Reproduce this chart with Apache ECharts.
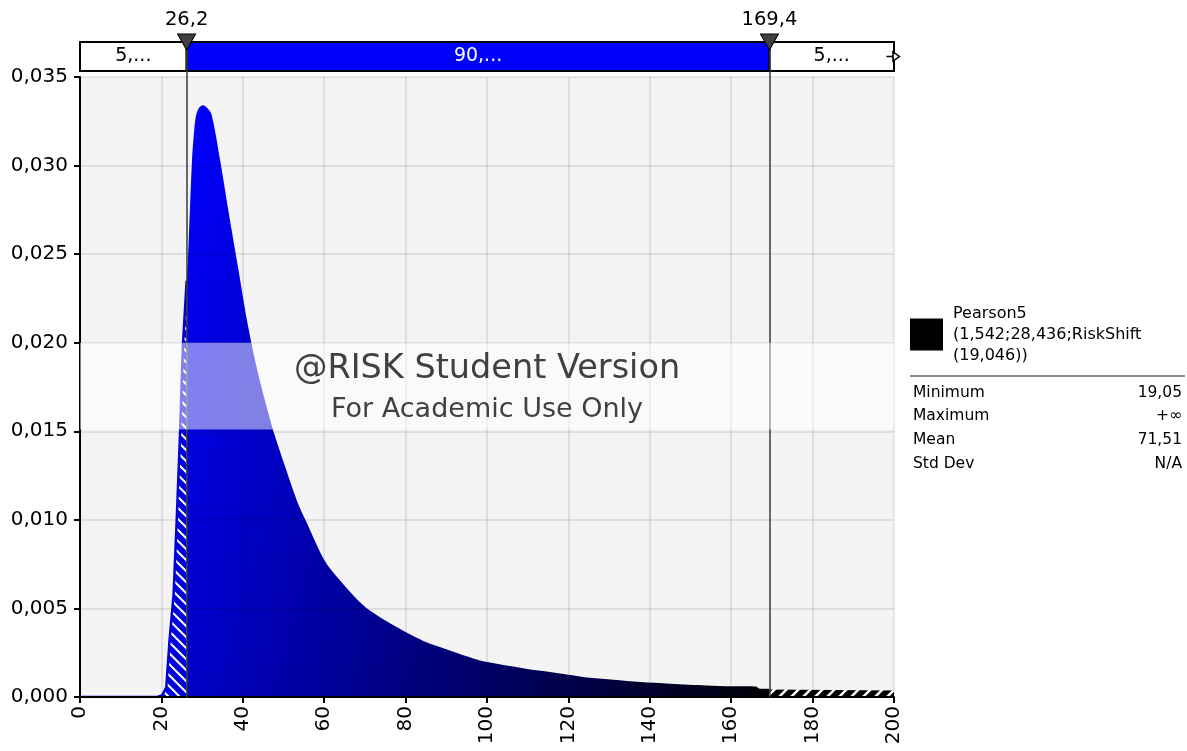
<!DOCTYPE html>
<html>
<head>
<meta charset="utf-8">
<script src="https://cdn.jsdelivr.net/npm/echarts@6/dist/echarts.min.js"></script>
<style>
  html, body { margin: 0; padding: 0; background: #ffffff; }
  #chart { width: 1187px; height: 751px; }
</style>
</head>
<body>
<div id="chart"></div>
<script>
// Density below the left delimiter (hatched)
const leftX       = [0, 19.05, 20.2, 21.2, 22.0, 23.0, 23.8, 24.6, 25.3, 26.2];
const leftDensity = [0, 0, 0.0001, 0.00055, 0.0032, 0.0058, 0.0102, 0.0150, 0.0199, 0.0235];

// Density between the two delimiters (90% band)
const mainX = [26.2, 26.5, 27.5, 28.1, 28.6, 29.4, 30.2, 31.0, 32.3, 34.5, 36.5, 38.8, 41.0,
               43.3, 45.6, 47.8, 50.7, 53.6, 55.6, 60.1, 63.8, 70.0, 78.6, 85, 90, 95, 98.3,
               102.4, 106.5, 110.6, 114.7, 119.6, 125.3, 131.1, 137.6, 145, 154, 160, 166,
               167, 169.4];
const mainDensity = [0.0235, 0.0246, 0.0302, 0.0321, 0.0329, 0.0333, 0.0334, 0.0333, 0.0329,
                     0.0302, 0.0274, 0.0243, 0.0213, 0.0187, 0.0166, 0.0148, 0.0128, 0.0109,
                     0.0099, 0.0077, 0.0066, 0.0051, 0.00385, 0.0031, 0.0027, 0.0023, 0.00206,
                     0.00188, 0.00172, 0.00155, 0.00144, 0.00127, 0.00108, 0.00097, 0.00084,
                     0.00075, 0.00065, 0.0006, 0.00059, 0.00047, 0.00046];

// Density above the right delimiter (hatched)
const rightX       = [169.4, 185, 200];
const rightDensity = [0.00042, 0.0004, 0.00037];

// Delimiters and the probability band above the plot
const delimiters = [26.2, 169.4];
const bandLabels = ['5,...', '90,...', '5,...'];

// Axis ranges
const xRange = { min: 0, max: 200, interval: 20 };
const yRange = { min: 0, max: 0.035, interval: 0.005 };

// Distribution legend and statistics
const distName   = 'Pearson5\n(1,542;28,436;RiskShift\n(19,046))';
const statNames  = ['Minimum', 'Maximum', 'Mean', 'Std Dev'];
const statValues = ['19,05', '+\u221E', '71,51', 'N/A'];

const watermark = ['@RISK Student Version', 'For Academic Use Only'];

const FONT = 'DejaVu Sans';
const comma = v => String(v).replace('.', ',');
const pairs = (xs, ys) => xs.map((x, i) => [x, ys[i]]);

// Diagonal hatch tile used as an area fill pattern
function hatch(bg, fg, size, width, dir) {
  const c = document.createElement('canvas');
  c.width = c.height = size;
  const g = c.getContext('2d');
  g.fillStyle = bg;
  g.fillRect(0, 0, size, size);
  g.strokeStyle = fg;
  g.lineWidth = width;
  g.beginPath();
  for (let k = -1; k <= 1; k++) {
    if (dir === 'back') {
      g.moveTo(k * size - 1, -1);
      g.lineTo(k * size + size + 1, size + 1);
    } else {
      g.moveTo(k * size - 1, size + 1);
      g.lineTo(k * size + size + 1, -1);
    }
  }
  g.stroke();
  return c;
}

const segments = [];
const bounds = [xRange.min, ...delimiters, xRange.max];
for (let i = 0; i < bounds.length - 1; i++) segments.push([bounds[i], bounds[i + 1]]);
const segFill = ['#ffffff', '#0000ff', '#ffffff'];
const segText = ['#000000', '#ffffff', '#000000'];
const BAR_BOTTOM = 6 / 35;

const chart = echarts.init(document.getElementById('chart'), null, { renderer: 'canvas' });

chart.setOption({
  animation: false,
  backgroundColor: '#ffffff',
  textStyle: { fontFamily: FONT },
  grid: [
    { left: 80, width: 814, top: 77, height: 620, show: true, backgroundColor: '#f4f4f4', borderWidth: 0 },
    { left: 80, width: 814, top: 42, height: 35, show: false }
  ],
  xAxis: [
    {
      type: 'value', gridIndex: 0, min: xRange.min, max: xRange.max, interval: xRange.interval, z: 4,
      axisLine: { show: true, onZero: false, lineStyle: { color: '#000', width: 2 } },
      axisTick: { show: true, length: 6, lineStyle: { color: '#000', width: 2 } },
      axisLabel: { rotate: 90, margin: 9, fontSize: 20, color: '#000', fontFamily: FONT, formatter: v => String(v) },
      splitLine: { show: true, lineStyle: { color: 'rgba(0,0,0,0.11)', width: 1.5 } }
    },
    { type: 'value', gridIndex: 1, min: xRange.min, max: xRange.max, show: false }
  ],
  yAxis: [
    {
      type: 'value', gridIndex: 0, min: yRange.min, max: yRange.max, interval: yRange.interval, z: 4,
      axisLine: { show: true, lineStyle: { color: '#000', width: 2 } },
      axisTick: { show: true, length: 6, lineStyle: { color: '#000', width: 2 } },
      axisLabel: { margin: 12, fontSize: 20, color: '#000', fontFamily: FONT, formatter: v => v.toFixed(3).replace('.', ',') },
      splitLine: { show: true, lineStyle: { color: 'rgba(0,0,0,0.11)', width: 1.5 } }
    },
    { type: 'value', gridIndex: 1, min: 0, max: 1, show: false }
  ],
  legend: {
    data: [{ name: distName, icon: 'rect', itemStyle: { color: '#000' } }],
    left: 910, top: 303, padding: 0,
    itemWidth: 33, itemHeight: 32,
    selectedMode: false,
    textStyle: { fontFamily: FONT, fontSize: 16, lineHeight: 21, color: '#000', padding: [0, 0, 0, 5] }
  },
  series: [
    {
      type: 'line', name: 'left tail', xAxisIndex: 0, yAxisIndex: 0, z: 2, silent: true,
      data: pairs(leftX, leftDensity), showSymbol: false, symbol: 'none',
      lineStyle: { color: '#0000d8', width: 2.5 },
      areaStyle: { opacity: 1, color: { image: hatch('#0000e0', '#ffffff', 11, 2, 'back'), repeat: 'repeat' } }
    },
    {
      type: 'line', name: distName, xAxisIndex: 0, yAxisIndex: 0, z: 2, silent: true,
      data: pairs(mainX, mainDensity), showSymbol: false, symbol: 'none',
      smooth: 0.3,
      itemStyle: { color: '#0000ff' },
      lineStyle: { width: 0 },
      areaStyle: {
        opacity: 1,
        color: new echarts.graphic.LinearGradient(0, 0, 1.19, 0.33, [
          { offset: 0, color: '#0000ff' },
          { offset: 1, color: '#000005' }
        ])
      },
      markLine: {
        silent: true, symbol: ['none', 'none'], z: 6,
        label: { show: false },
        lineStyle: { color: '#3a3a3a', width: 1.5, type: 'solid' },
        data: delimiters.map(v => ({ xAxis: v }))
      },
      markArea: {
        silent: true, z: 10,
        itemStyle: { color: 'rgba(255,255,255,0.5)' },
        label: {
          show: true, position: 'inside', offset: [0, 3],
          formatter: '{a|' + watermark[0] + '}\n{b|' + watermark[1] + '}',
          rich: {
            a: { fontFamily: FONT, fontSize: 33.5, color: '#404040', lineHeight: 42 },
            b: { fontFamily: FONT, fontSize: 27, color: '#404040', lineHeight: 40 }
          }
        },
        data: [[{ xAxis: xRange.min, yAxis: 0.0151 }, { xAxis: xRange.max, yAxis: 0.0200 }]]
      }
    },
    {
      type: 'line', name: 'right tail', xAxisIndex: 0, yAxisIndex: 0, z: 2, silent: true,
      data: pairs(rightX, rightDensity), showSymbol: false, symbol: 'none',
      lineStyle: { width: 0 },
      areaStyle: { opacity: 1, color: { image: hatch('#000000', '#ffffff', 12, 2.5, 'fwd'), repeat: 'repeat' } }
    },
    {
      type: 'custom', name: 'band', xAxisIndex: 1, yAxisIndex: 1, silent: true, z: 3, clip: false,
      data: segments,
      renderItem: (params, api) => {
        const i = params.dataIndex;
        const a = api.coord([api.value(0), 1]);
        const b = api.coord([api.value(1), BAR_BOTTOM]);
        return {
          type: 'rect',
          shape: { x: a[0], y: a[1], width: b[0] - a[0], height: b[1] - a[1] },
          style: { fill: segFill[i], stroke: '#000', lineWidth: 2 },
          textContent: { style: { text: bandLabels[i], fill: segText[i], fontSize: 19, fontFamily: FONT } },
          textConfig: { position: 'inside' }
        };
      },
      markLine: {
        silent: true, symbol: ['none', 'none'],
        label: { show: false },
        lineStyle: { color: '#3a3a3a', width: 1.5, type: 'solid' },
        data: delimiters.map(v => ({ xAxis: v }))
      }
    },
    {
      type: 'scatter', name: 'delimiters', xAxisIndex: 1, yAxisIndex: 1, silent: true, z: 5, clip: false,
      data: delimiters.map(v => [v, 1]),
      symbol: 'triangle', symbolRotate: 180, symbolSize: [18, 16],
      itemStyle: { color: '#404040', borderColor: '#000', borderWidth: 1, opacity: 1 },
      label: {
        show: true, position: 'top', distance: 4, color: '#000', fontSize: 19.5, fontFamily: FONT,
        formatter: p => comma(p.value[0])
      }
    },
    {
      type: 'scatter', name: 'more', xAxisIndex: 1, yAxisIndex: 1, silent: true, z: 5, clip: false,
      data: [[xRange.max, (BAR_BOTTOM + 1) / 2]],
      symbol: 'path://M0,5 L6,5 M6,0 L12,5 L6,10 Z', symbolKeepAspect: true,
      symbolSize: [13, 11], symbolOffset: [-1, 0],
      itemStyle: { color: '#ffffff', borderColor: '#000', borderWidth: 1.5, opacity: 1 }
    }
  ],
  graphic: [
    { type: 'line', shape: { x1: 910, y1: 376, x2: 1185, y2: 376 }, style: { stroke: '#8c8c8c', lineWidth: 2 } },
    ...statNames.map((s, i) => ({
      type: 'text', x: 913, y: 392.5 + i * 23.7,
      style: { text: s, fontFamily: FONT, fontSize: 15.5, fill: '#000', verticalAlign: 'middle', align: 'left' }
    })),
    ...statValues.map((s, i) => ({
      type: 'text', x: 1182, y: 392.5 + i * 23.7,
      style: { text: s, fontFamily: FONT, fontSize: 15.5, fill: '#000', verticalAlign: 'middle', align: 'right' }
    }))
  ]
});
</script>
</body>
</html>
